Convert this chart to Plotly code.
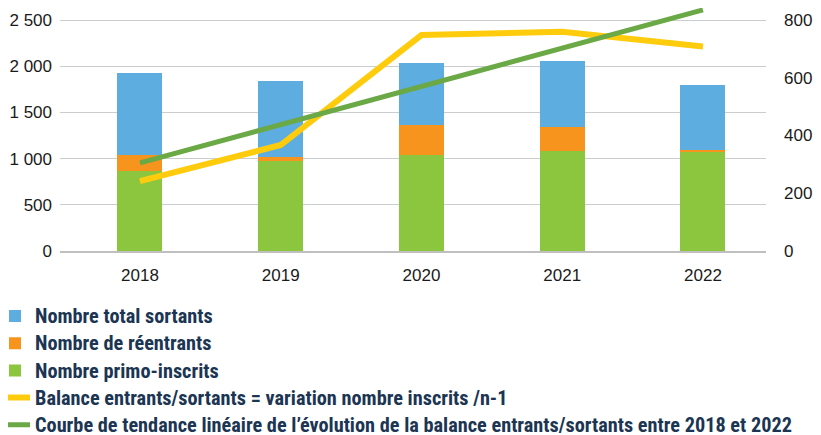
import plotly.graph_objects as go

years = ["2018", "2019", "2020", "2021", "2022"]
primo_inscrits = [870, 970, 1040, 1080, 1080]
reentrants = [170, 50, 320, 260, 15]
total_sortants = [885, 820, 670, 715, 700]
balance = [242, 367, 748, 759, 708]
tendance = [305, 437, 570, 702, 835]

left_ticks = [0, 500, 1000, 1500, 2000, 2500]
right_ticks = [0, 200, 400, 600, 800]

legend_font = dict(family="Roboto Condensed, Liberation Sans Narrow, Roboto", size=18.6, color="#1B3552")


def lg(text):
    return '<span style="font-size:20.3px"><b>' + text + '</b></span>'


fig = go.Figure()
fig.add_trace(go.Bar(x=years, y=primo_inscrits, name=lg("Nombre primo-inscrits"),
                     marker=dict(color="#8CC63F", line=dict(width=0)), legendrank=3))
fig.add_trace(go.Bar(x=years, y=reentrants, name=lg("Nombre de réentrants"),
                     marker=dict(color="#F7941E", line=dict(width=0)), legendrank=2))
fig.add_trace(go.Bar(x=years, y=total_sortants, name=lg("Nombre total sortants"),
                     marker=dict(color="#5DADE0", line=dict(width=0)), legendrank=1))
fig.add_trace(go.Scatter(x=years, y=balance, yaxis="y2", mode="lines",
                         name=lg("Balance entrants/sortants = variation nombre inscrits /n-1"),
                         line=dict(color="#FFCC0D", width=6), legendrank=4))
fig.add_trace(go.Scatter(x=years, y=tendance, yaxis="y2", mode="lines",
                         name=lg("Courbe de tendance linéaire de l’évolution de la balance entrants/sortants entre 2018 et 2022"),
                         line=dict(color="#6BA946", width=5), legendrank=5))

tick_font = dict(family="Liberation Sans, Arial, sans-serif", size=17, color="#1A1A1A")

fig.update_layout(
    width=813, height=427,
    margin=dict(l=52, r=55, t=0, b=184),
    paper_bgcolor="white", plot_bgcolor="white",
    barmode="stack", bargap=0.68,
    separators=", ",
    showlegend=True,
    legend=dict(xref="paper", yref="container", x=-0.1161, y=0.3221, xanchor="left", yanchor="top",
                traceorder="normal", font=legend_font, itemwidth=30, indentation=-13,
                bgcolor="rgba(0,0,0,0)"),
    xaxis=dict(type="category", range=[-0.568, 4.448], showgrid=False, showline=True,
               linecolor="#BFBFBF", linewidth=2, ticks="", tickfont=tick_font, ticklabelstandoff=8),
    yaxis=dict(range=[0, 2630], tickvals=left_ticks, showgrid=True, gridcolor="#C9CDCD", gridwidth=1,
               zeroline=False, showline=False, ticks="", tickfont=tick_font, ticklabelstandoff=7,
               tickformat=",d"),
    yaxis2=dict(range=[0, 841.6], tickvals=right_ticks, overlaying="y", side="right", showgrid=False,
                zeroline=False, showline=False, ticks="", tickfont=tick_font, ticklabelstandoff=17),
)

fig.write_html("out.html")
